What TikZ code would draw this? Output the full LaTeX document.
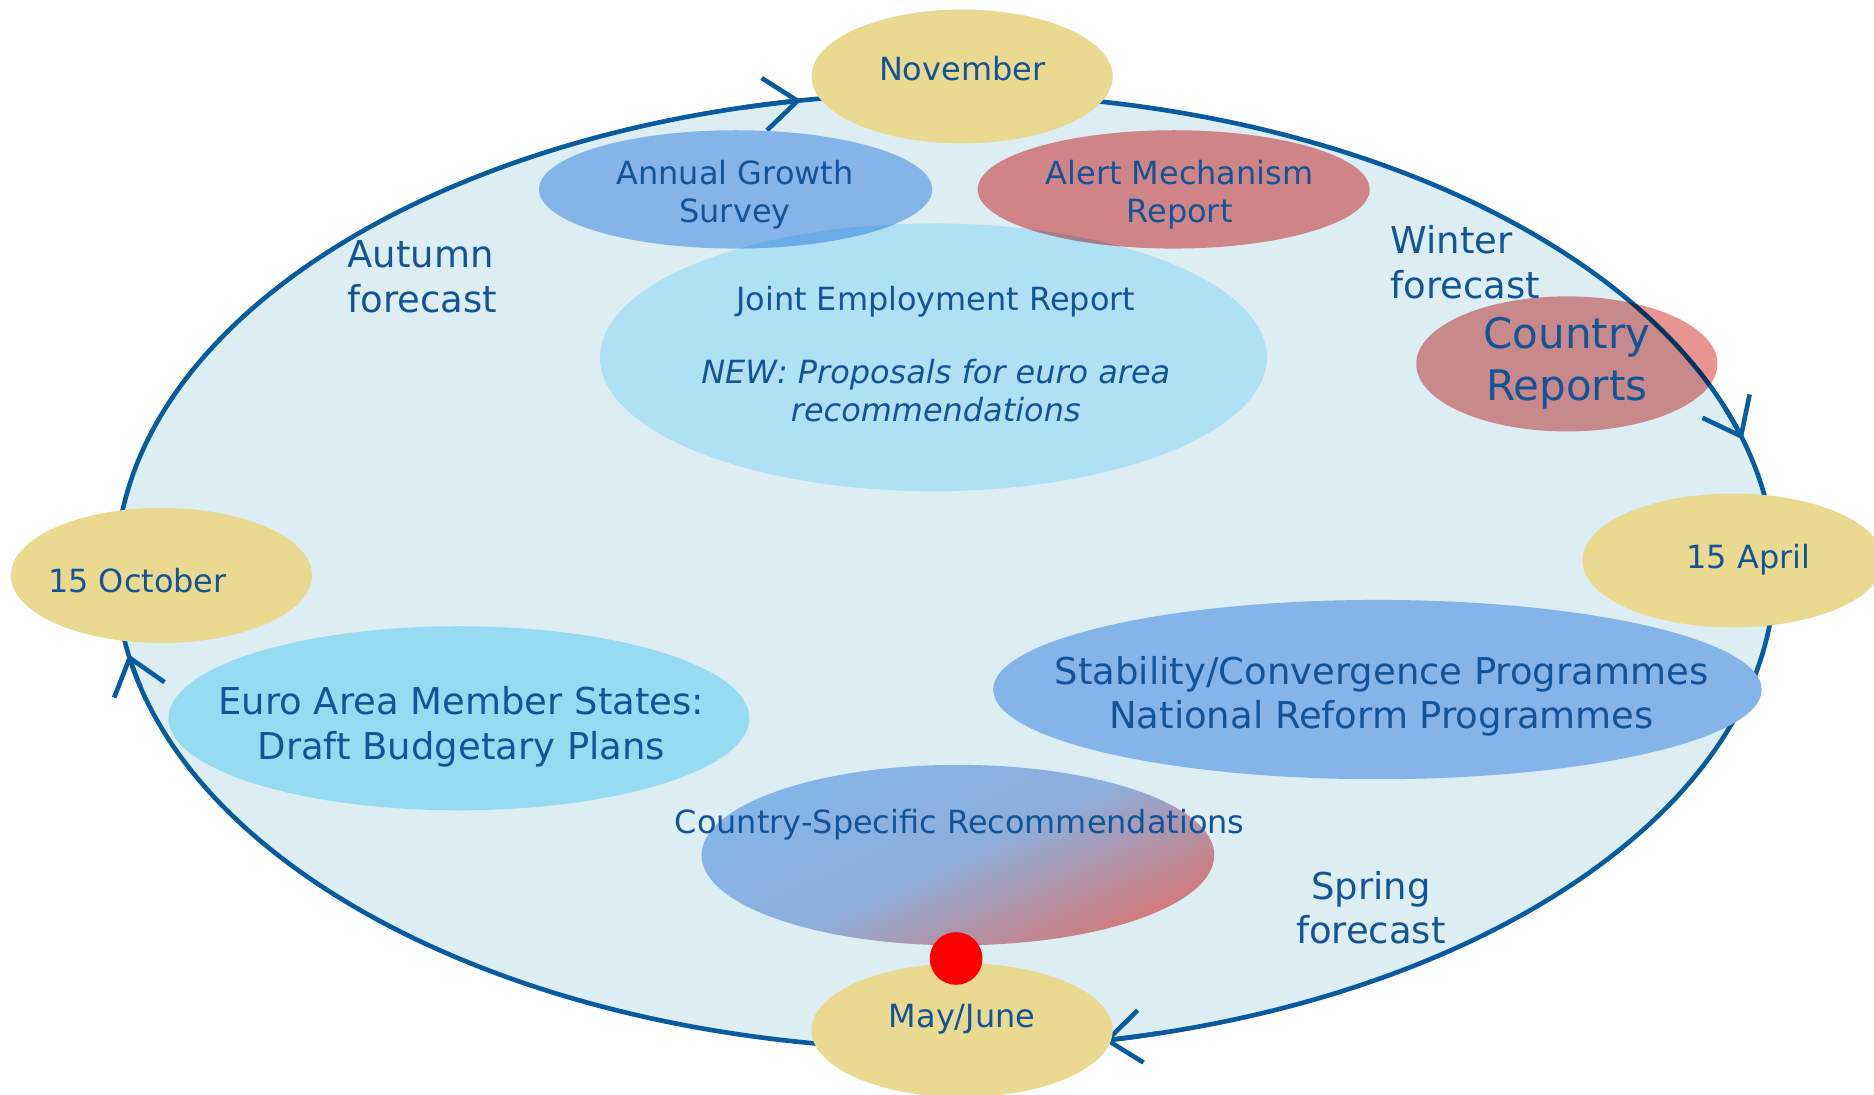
\documentclass[tikz,border=0pt]{standalone}
\usepackage{fontspec}
\setmainfont{DejaVu Sans}
\usetikzlibrary{shapes.geometric,arrows.meta}

\definecolor{linie}{RGB}{10,90,160}
\definecolor{schrift}{RGB}{20,84,150}
\definecolor{grund}{RGB}{220,237,244}
\definecolor{monat}{RGB}{233,217,145}
\definecolor{blau}{RGB}{133,181,232}
\definecolor{hellblau}{RGB}{151,219,243}
\definecolor{jerblau}{RGB}{204,242,255}
\definecolor{rot}{RGB}{207,132,136}
\definecolor{rotmul}{RGB}{232,148,146}
\definecolor{csrrot}{RGB}{212,120,118}

\tikzset{
	blase/.style 2 args={ellipse,draw=none,inner sep=0pt,minimum width=#1*0.01cm,minimum height=#2*0.01cm},
	klein/.style={inner sep=0pt,text=schrift,align=center,font=\fontsize{7.6}{9.1}\selectfont},
	mittel/.style={inner sep=0pt,text=schrift,align=center,font=\fontsize{8.8}{10.6}\selectfont},
	gross/.style={inner sep=0pt,text=schrift,align=center,font=\fontsize{10}{12.2}\selectfont}
}

\def\ra{694}
\def\rb{400}
\def\pfeil#1{\draw[line width=1.1pt,color=linie,->] (mitte) ++({#1+4}:\ra\space and \rb) arc[start angle={#1+4},end angle=#1,x radius=\ra,y radius=\rb];}

\begin{document}
\begin{tikzpicture}[x=0.01cm,y=0.01cm,>={Straight Barb[length=2.8mm,width=4.4mm]}]

\useasboundingbox (0,0) rectangle (1568,916);
\clip (0,0) rectangle (1568,916);

\coordinate (mitte) at (791,438);
\draw[line width=1.1pt,color=linie,fill=grund] (mitte) ellipse[x radius=\ra,y radius=\rb];

\pfeil{100}
\pfeil{16}
\pfeil{281}
\pfeil{190}

\node[blase={329}{99},fill=blau] (ags) at (615.5,757.5) {};
\node[blase={328}{99},fill=rot] (amr) at (982,757.5) {};
\node[blase={486}{154},fill=hellblau] (ea) at (384,315) {};
\node[blase={643}{150},fill=blau] (scp) at (1152.5,339) {};
\node[blase={429}{151},top color=blau,bottom color=csrrot,middle color=blau!90!csrrot,shading angle=25] (csr) at (801.5,200.5) {};

\begin{scope}[blend mode=multiply]
\node[blase={558}{224},fill=jerblau] (jer) at (781,617) {};
\node[blase={252}{113},fill=rotmul] (cr) at (1311,611.5) {};
\end{scope}

\node[blase={252}{112},fill=monat] (nov) at (805,852) {};
\node[blase={252}{113},fill=monat] (okt) at (135,434.5) {};
\node[blase={252}{112},fill=monat] (apr) at (1450,447) {};
\node[blase={252}{112},fill=monat] (mai) at (805,54) {};

\node[circle,fill=red,inner sep=0pt,minimum size=0.44cm] (punkt) at (800,114) {};

\node[klein] (novtext) at (805,859) {November};
\node[klein] (okttext) at (115,430) {15 October};
\node[klein] (aprtext) at (1463,448) {15 April};
\node[klein] (maitext) at (805,63) {May/June};

\node[klein] (agstext) at (615,753) {Annual Growth\\Survey};
\node[klein] (amrtext) at (987,753) {Alert Mechanism\\Report};
\node[klein] (jertext) at (783,619.5) {Joint Employment Report\\[8.3pt]\textit{NEW: Proposals for euro area}\\\textit{recommendations}};
\node[gross] (crtext) at (1311,612) {Country\\Reports};
\node[mittel] (eatext) at (386,308) {Euro Area Member States:\\Draft Budgetary Plans};
\node[mittel] (scptext) at (1156,333.5) {Stability/Convergence Programmes\\National Reform Programmes};
\node[klein] (csrtext) at (803,226) {Country-Specific Recommendations};

\node[mittel,anchor=west,align=left] (herbst) at (290,684.5) {Autumn\\forecast};
\node[mittel,anchor=west,align=left] (winter) at (1163,696.5) {Winter\\forecast};
\node[mittel] (fruehling) at (1147,156.5) {Spring\\forecast};

\end{tikzpicture}
\end{document}
